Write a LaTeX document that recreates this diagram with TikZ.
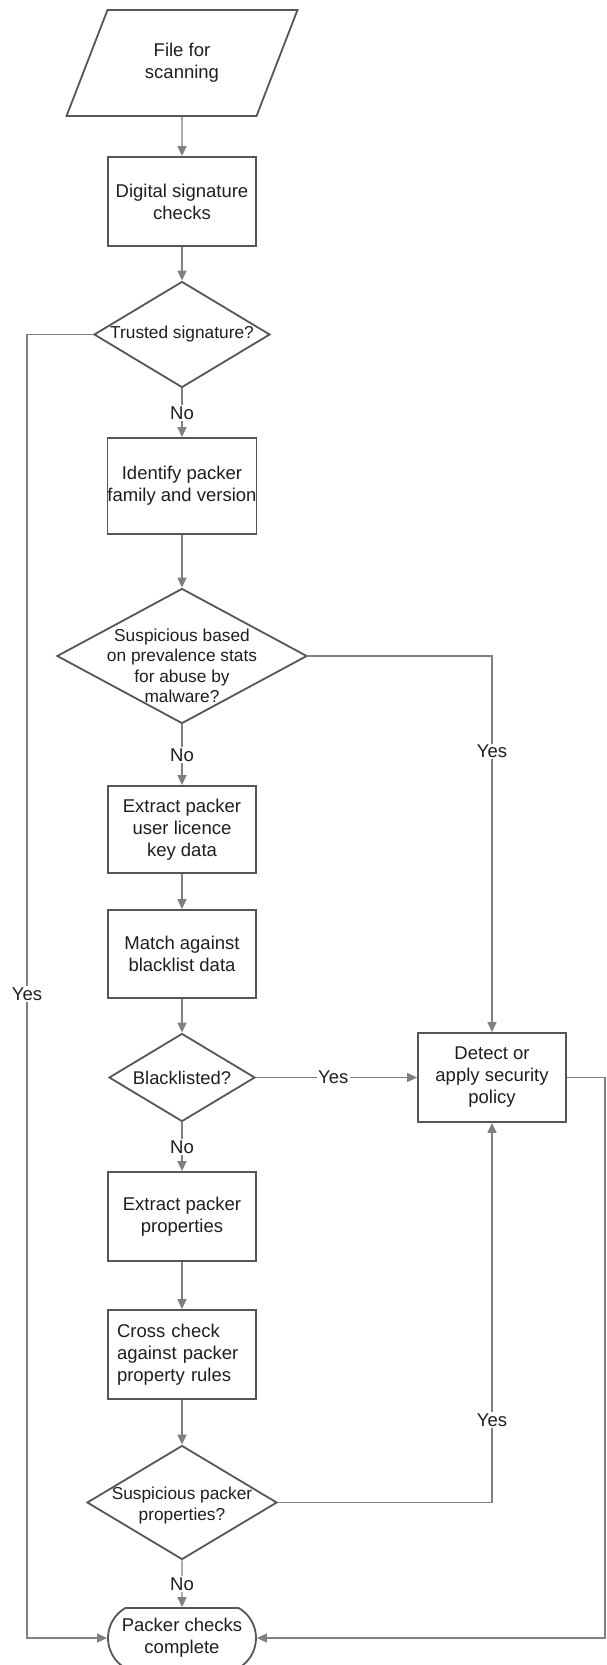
\documentclass[tikz,border=0pt]{standalone}
\usepackage{fontspec}
\setmainfont{Liberation Sans}
\usepackage{tikz}
\usetikzlibrary{shapes.geometric, shapes.misc, arrows.meta, positioning}

\definecolor{linegray}{HTML}{808080}
\definecolor{boxgray}{HTML}{565656}
\definecolor{inkgray}{HTML}{1E1E1E}

\begin{document}
\begin{tikzpicture}[x=1pt, y=-1pt, ->, >={Triangle[length=10pt,width=9pt]}, line width=1.4pt, color=linegray,
	proc/.style={rectangle, draw=boxgray, line width=1.8pt, minimum width=148pt, minimum height=89pt, inner sep=0pt, align=center, text=inkgray, font=\fontsize{18.5}{22}\selectfont},
	io/.style={trapezium, trapezium left angle=62.6, trapezium right angle=117.4, trapezium stretches=true, draw=boxgray, line width=1.8pt, minimum width=231pt, minimum height=106pt, inner sep=0pt, align=center, text=inkgray, font=\fontsize{18.5}{22}\selectfont},
	term/.style={rounded rectangle, rounded rectangle arc length=120, draw=boxgray, line width=1.8pt, minimum width=148pt, minimum height=60pt, inner sep=0pt, align=center, text=inkgray, font=\fontsize{18.5}{22}\selectfont},
	decision/.style={diamond, draw=boxgray, line width=1.8pt, inner sep=0pt},
	dtext/.style={align=center, text=inkgray, font=\fontsize{17.3}{20.5}\selectfont},
	ans/.style={fill=white, text=inkgray, inner sep=1.5pt, font=\fontsize{18.5}{22}\selectfont}]
	\useasboundingbox (0,0) rectangle (607,1665);
	\node[io] (file) at (182,63) {File for\\scanning};
	\node[proc] (sig) at (182,201.5) {Digital signature\\checks};
	\node[decision, minimum width=176pt, minimum height=106pt, label={[dtext]center:Trusted signature?}] (trust) at (182,334.5) {};
	\node[proc, minimum height=96pt] (ident) at (182,486) {Identify packer\\family and version};
	\node[decision, minimum width=250pt, minimum height=135pt, label={[dtext, yshift=-10pt]center:Suspicious based\\on prevalence stats\\for abuse by\\malware?}] (prev) at (182,656) {};
	\node[proc, minimum height=87pt] (lic) at (182,829.5) {Extract packer\\user licence\\key data};
	\node[proc, minimum height=88pt] (match) at (182,954) {Match against\\blacklist data};
	\node[decision, minimum width=146pt, minimum height=88pt, label={[dtext, font=\fontsize{18.4}{22}\selectfont]center:Blacklisted?}] (black) at (182,1077.5) {};
	\node[proc] (props) at (182,1216.5) {Extract packer\\properties};
	\node[proc, text width=130pt, align=left] (cross) at (182,1354.5) {Cross check\\against packer\\property rules};
	\node[decision, minimum width=190pt, minimum height=114pt, label={[dtext, yshift=-3pt]center:Suspicious packer\\properties?}] (spack) at (182,1502.5) {};
	\node[term] (done) at (182,1638) {Packer checks\\complete};
	\node[proc] (detect) at (492,1077.5) {Detect or\\apply security\\policy};
	\coordinate (lbend) at (27,334.5);
	\coordinate (rbend) at (605,1077.5);
	\draw	(file) edge (sig)
			(sig) edge (trust)
			(trust) edge node[ans]{No} (ident)
			(ident) edge (prev)
			(prev) edge node[ans]{No} (lic)
			(lic) edge (match)
			(match) edge (black)
			(black) edge node[ans]{No} (props)
			(black) edge node[ans, pos=0.48]{Yes} (detect)
			(props) edge (cross)
			(cross) edge (spack)
			(spack) edge node[ans]{No} (done);
	\draw (prev.east) -| node[ans, pos=0.627]{Yes} (detect.north);
	\draw (spack.east) -| node[ans, pos=0.609]{Yes} (detect.south);
	\draw (trust.west) -- (lbend) |- node[ans, pos=0.253]{Yes} (done.west);
	\draw (detect.east) -- (rbend) |- (done.east);
\end{tikzpicture}
\end{document}
